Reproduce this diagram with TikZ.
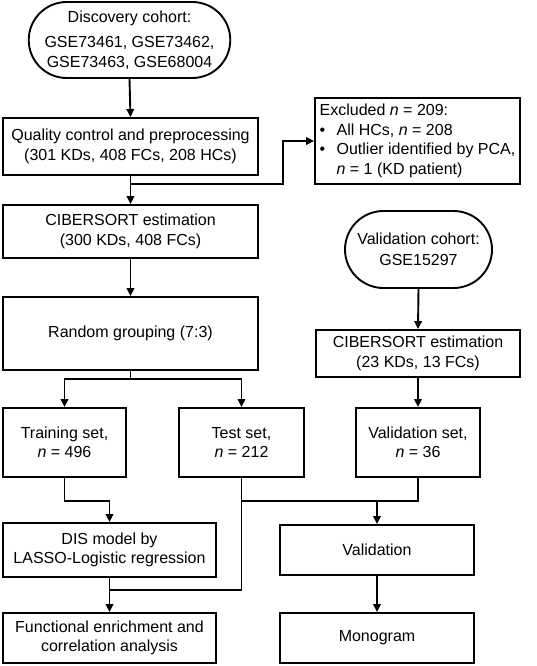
\documentclass[tikz,border=0pt]{standalone}
\usepackage{fontspec}
\setmainfont{Liberation Sans}
\usetikzlibrary{shapes.misc,arrows.meta}
\begin{document}
\begin{tikzpicture}[x=1pt,y=-1pt,
  box/.style={draw,line width=1.9pt,rectangle,inner sep=2pt,align=center,font=\fontsize{16pt}{19.5pt}\selectfont},
  stad/.style={draw,line width=1.9pt,rounded rectangle,inner sep=2pt,align=center,font=\fontsize{16pt}{19.5pt}\selectfont},
  ln/.style={line width=1.9pt},
  arr/.style={line width=1.9pt,-{Triangle[length=8pt,width=7.5pt]}}]
\useasboundingbox (0,0) rectangle (536,666);
\node[stad,minimum width=199pt,minimum height=76pt] (disc) at (129.5,40)
  {Discovery cohort:\\[6pt] GSE73461, GSE73462,\\[0pt] GSE73463, GSE68004};
\node[box,minimum width=255pt,minimum height=57pt] (qc) at (130.5,146.5)
  {Quality control and preprocessing\\(301 KDs, 408 FCs, 208 HCs)};
\node[box,minimum width=205pt,minimum height=86pt,align=left] (excl) at (417.5,141)
  {Excluded \textit{n} = 209:\\
   \makebox[17pt][l]{\textbullet}All HCs, \textit{n} = 208\\
   \makebox[17pt][l]{\textbullet}Outlier identified by PCA,\\
   \makebox[17pt][l]{}\textit{n} = 1 (KD patient)};
\node[box,minimum width=255pt,minimum height=53pt] (cib1) at (130.5,231.5)
  {CIBERSORT estimation\\(300 KDs, 408 FCs)};
\node[box,minimum width=255pt,minimum height=73pt] (rand) at (130.5,333.5)
  {Random grouping (7:3)};
\node[stad,minimum width=151pt,minimum height=77pt] (valcoh) at (418.5,249.5)
  {Validation cohort:\\[2pt] GSE15297};
\node[box,minimum width=204pt,minimum height=47pt] (cib2) at (418,353.5)
  {CIBERSORT estimation\\(23 KDs, 13 FCs)};
\node[box,minimum width=123pt,minimum height=69pt] (train) at (64.5,442.5)
  {Training set,\\\textit{n} = 496};
\node[box,minimum width=125pt,minimum height=69pt] (test) at (241.5,442.5)
  {Test set,\\\textit{n} = 212};
\node[box,minimum width=124pt,minimum height=69pt] (valset) at (418,442.5)
  {Validation set,\\\textit{n} = 36};
\node[box,minimum width=213pt,minimum height=54pt] (dis) at (109.5,550)
  {DIS model by\\LASSO-Logistic regression};
\node[box,minimum width=213pt,minimum height=50pt] (func) at (109.5,638)
  {Functional enrichment and\\correlation analysis};
\node[box,minimum width=194pt,minimum height=50pt] (valid) at (377,550)
  {Validation};
\node[box,minimum width=194pt,minimum height=50pt] (mono) at (377,638)
  {Monogram};
% connectors
\draw[arr] (disc.south) -- (qc.north);
\draw[arr] (qc.south) -- (cib1.north);
\coordinate (b1) at (130.5,184);
\coordinate (b1r) at (283,184);
\draw[arr] (b1) -- (b1r) |- (excl.west);
\draw[arr] (cib1.south) -- (rand.north);
\coordinate (b2) at (130.5,379);
\draw[ln] (rand.south) -- (b2);
\draw[arr] (b2) -| (train.north);
\draw[arr] (b2) -| (test.north);
\draw[arr] (valcoh.south) -- (cib2.north);
\draw[arr] (cib2.south) -- (valset.north);
\coordinate (t501) at (64.5,501);
\draw[arr] (train.south) -- (t501) -| (dis.north);
\coordinate (j590) at (241.5,590);
\coordinate (jd590) at (109.5,590);
\draw[ln] (test.south) -- (j590) -- (jd590);
\draw[arr] (dis.south) -- (func.north);
\coordinate (j501) at (241.5,501);
\coordinate (v501) at (418,501);
\coordinate (a501) at (377,501);
\draw[ln] (valset.south) -- (v501) -- (j501);
\draw[arr] (a501) -- (valid.north);
\draw[arr] (valid.south) -- (mono.north);
\end{tikzpicture}
\end{document}
